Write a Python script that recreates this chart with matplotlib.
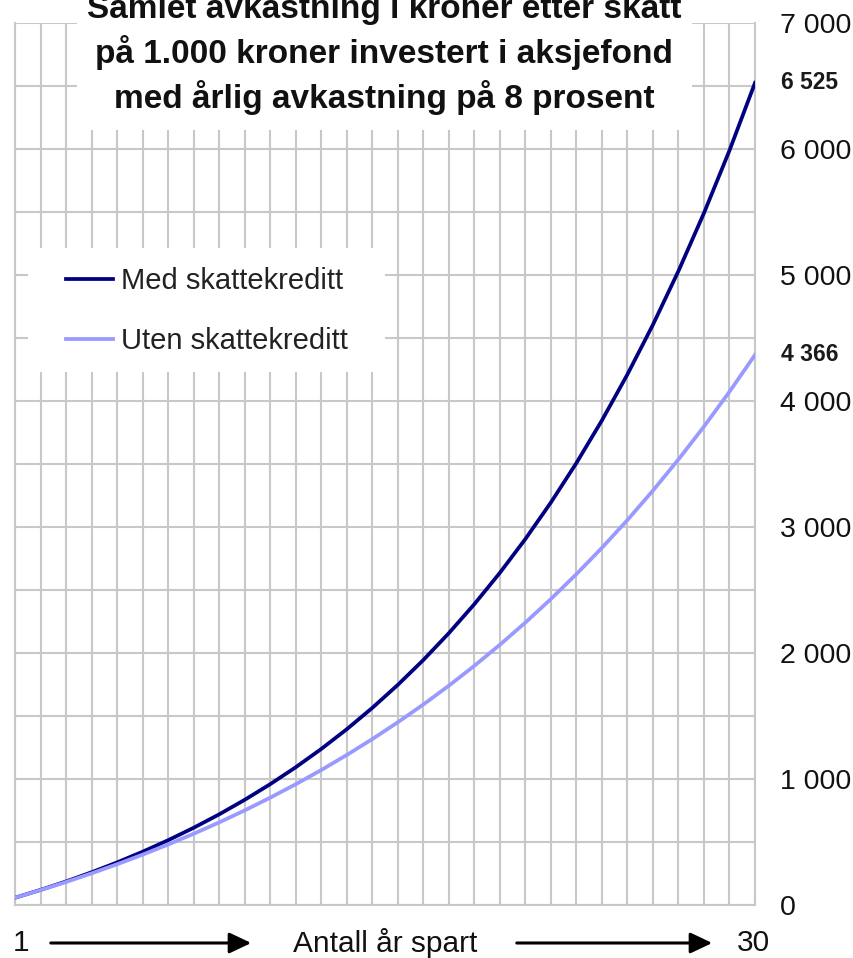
import matplotlib.pyplot as plt
from matplotlib.patches import FancyArrowPatch, Rectangle

plt.rcParams["font.family"] = ["Liberation Sans", "DejaVu Sans"]

# Samlet avkastning (kr) etter skatt, år 1..30
years = list(range(1, 31))
med_skattekreditt = [57.6, 119.8, 187.0, 259.6, 337.9, 422.6, 514.0, 612.7, 719.3, 834.4,
                     958.8, 1093.1, 1238.1, 1394.8, 1564.0, 1746.7, 1944.0, 2157.1, 2387.3, 2635.9,
                     2904.4, 3194.3, 3507.5, 3845.7, 4210.9, 4605.4, 5031.4, 5491.5, 5988.4, 6525.1]
uten_skattekreditt = [57.6, 118.5, 182.9, 251.1, 323.1, 399.4, 480.0, 565.2, 655.4, 750.7,
                      851.6, 958.2, 1071.0, 1190.3, 1316.4, 1449.9, 1591.0, 1740.2, 1898.1, 2065.0,
                      2241.5, 2428.2, 2625.7, 2834.6, 3055.4, 3289.0, 3536.1, 3797.3, 4073.7, 4365.9]
y_ticks = [0, 1000, 2000, 3000, 4000, 5000, 6000, 7000]
y_tick_labels = ["0", "1 000", "2 000", "3 000", "4 000", "5 000", "6 000", "7 000"]
end_labels = ["6 525", "4 366"]
title_lines = ["Samlet avkastning i kroner etter skatt",
               "på 1.000 kroner investert i aksjefond",
               "med årlig avkastning på 8 prosent"]

W, H = 854, 958
fig = plt.figure(figsize=(W / 100, H / 100), dpi=100)
ax = fig.add_axes([15 / W, 53 / H, 740 / W, 882 / H])


def fy(py):
    # piksler fra toppen -> figurbrøk
    return 1 - py / H


ax.plot(years, med_skattekreditt, color="#000080", lw=2.7, label="Med skattekreditt", zorder=3)
ax.plot(years, uten_skattekreditt, color="#9999ff", lw=2.7, label="Uten skattekreditt", zorder=3)

ax.set_xlim(1, 30)
ax.set_ylim(0, 7000)
ax.set_xticks(years)
ax.set_xticklabels([])
ax.set_yticks(y_ticks)
ax.set_yticks(range(500, 7000, 1000), minor=True)
ax.set_yticklabels(y_tick_labels)
ax.yaxis.tick_right()
ax.grid(which="both", color="#c8c8c8", lw=1.5, zorder=0)
ax.tick_params(which="both", length=0)
ax.tick_params(axis="y", pad=18, labelsize=20.5, labelcolor="#111111")
for s in ax.spines.values():
    s.set_color("#c8c8c8")
    s.set_linewidth(1.5)
ax.spines["top"].set_visible(False)

# sluttverdier
for v, lab in zip([med_skattekreditt[-1], uten_skattekreditt[-1]], end_labels):
    ax.text(1.035, v, lab, transform=ax.get_yaxis_transform(), fontsize=16.5, fontweight="bold",
            va="center", ha="left", color="#1a1a1a")

# tittel med hvit bakgrunn
ax.add_patch(Rectangle((77 / W, fy(130)), (692 - 77) / W, 130 / H, transform=fig.transFigure,
                       facecolor="white", edgecolor="none", zorder=4, clip_on=False))
for line, base in zip(title_lines, [18, 63, 108]):
    fig.text(384 / W, fy(base), line, ha="center", va="baseline", fontsize=24,
             fontweight="bold", color="#111111", zorder=5)

# forklaring med hvit bakgrunn
ax.add_patch(Rectangle((28 / W, fy(372)), (385 - 28) / W, (372 - 248) / H, transform=fig.transFigure,
                       facecolor="white", edgecolor="none", zorder=4, clip_on=False))
leg = ax.legend(loc="center left", bbox_to_anchor=(66 / W, fy(311)), bbox_transform=fig.transFigure,
                fontsize=21, frameon=False, handlelength=1.62, handletextpad=0.28,
                labelspacing=1.1, borderpad=0, borderaxespad=0)
for t in leg.get_texts():
    t.set_color("#222222")
leg.set_zorder(5)

# x-akse: 1 -> Antall år spart -> 30
fig.text(21.5 / W, fy(943), "1", ha="center", va="center", fontsize=21.5, color="#111111")
fig.text(753 / W, fy(943), "30", ha="center", va="center", fontsize=21.5, color="#111111")
fig.text(385 / W, fy(943), "Antall år spart", ha="center", va="center",
         fontsize=21.5, color="#111111")
for x0, x1 in [(48, 254), (514, 715)]:
    fig.add_artist(FancyArrowPatch((x0 / W, fy(943)), (x1 / W, fy(943)),
                                   transform=fig.transFigure, arrowstyle="-|>,head_length=0.95,head_width=0.45",
                                   mutation_scale=14, color="black", lw=2.2))

fig.savefig("out.png", dpi=100, facecolor="white")
